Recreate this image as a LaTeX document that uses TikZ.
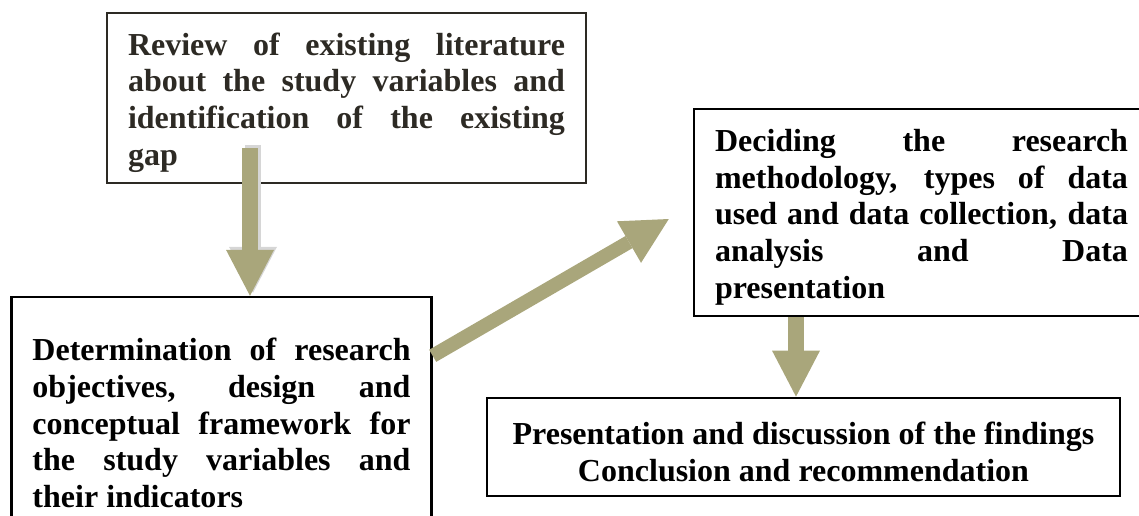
\documentclass[tikz,border=0pt]{standalone}
\usepackage{fontspec}
\setmainfont{Liberation Serif}
\usetikzlibrary{arrows.meta, positioning}
\definecolor{arrowTan}{HTML}{A9A67B}
\definecolor{reviewInk}{HTML}{2D2A24}
\definecolor{shadowGray}{HTML}{D6D6D6}
\newcommand{\toplift}{\rule{0pt}{15.8pt}}

\begin{document}
\begin{tikzpicture}[x=0.5pt, y=-0.5pt,
    stage/.style={rectangle, draw=black, line width=1.2pt, inner xsep=10.5pt,
                  inner ysep=2pt, align=justify,
                  font=\fontsize{16}{18.4}\selectfont\bfseries},
    reviewbox/.style={stage, draw=reviewInk, text=reviewInk, text width=218.5pt,
                      minimum height=85pt},
    findingsbox/.style={stage, align=center, minimum width=316.5pt,
                        minimum height=49pt, line width=1.4pt},
    flow/.style={draw=arrowTan, line width=8pt,
                 -{Triangle[width=24pt, length=23pt, line width=0pt]}},
    flowshadow/.style={flow, draw=shadowGray},
  ]
    \useasboundingbox (0,0) rectangle (1139,515);

    % ─── Stage boxes ───
    \node[reviewbox] (review) at (346.5, 98)
      {\toplift Review of existing literature\linebreak about the study variables and\linebreak
       identification of the existing\linebreak gap};
    \node[stage, text width=189pt, minimum height=126pt] (objectives) at (221.5, 423)
      {Determination of research\linebreak objectives, design and\linebreak
       conceptual framework for\linebreak the study variables and\linebreak
       their indicators};
    \node[stage, text width=206.5pt, minimum height=103.5pt] (method) at (921.5, 212.5)
      {\toplift Deciding the research\linebreak methodology, types of data\linebreak
       used and data collection, data\linebreak analysis and Data\linebreak
       presentation};
    \node[findingsbox] (findings) at (803.5, 447)
      {\toplift Presentation and discussion of the findings\\ Conclusion and recommendation};

    % ─── Flow arrows ───
    \coordinate (tipA) at ([xshift=14.25pt]objectives.north);
    \path (tipA |- review.south) ++(0,-36) coordinate (tailA);
    \draw[flowshadow, transform canvas={shift={(1.5pt,1.5pt)}}] (tailA) -- (tipA);
    \draw[flow] (tailA) -- (tipA);

    \coordinate (tailB) at ([yshift=-30pt]objectives.north east);
    \coordinate (tipB) at ([xshift=-12pt, yshift=-3.25pt]method.west);
    \draw[flow, line width=7pt] (tailB) -- (tipB);

    \coordinate (tipC) at ([xshift=-3.75pt]findings.north);
    \draw[flow] (tipC |- method.south) -- (tipC);
  \end{tikzpicture}
\end{document}
